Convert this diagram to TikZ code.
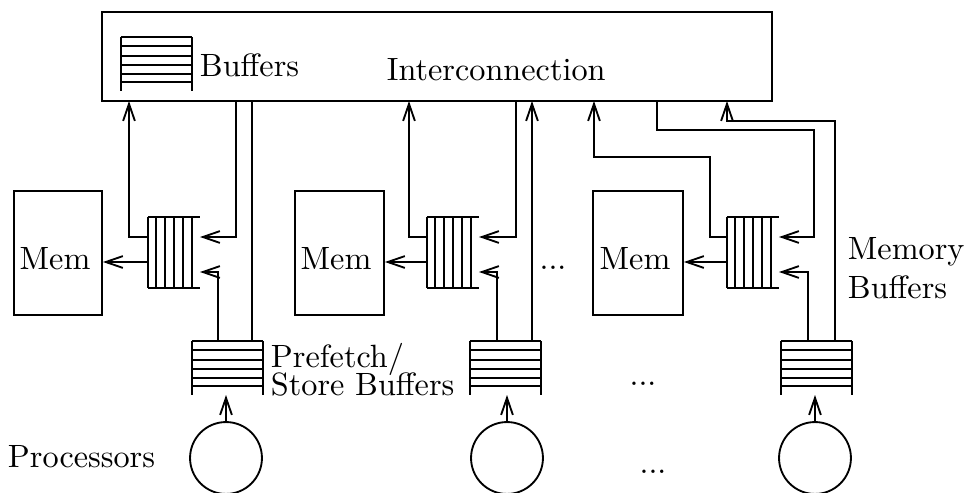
\documentclass[tikz,border=0pt]{standalone}
\usetikzlibrary{arrows.meta,fit}
\newcommand\tightlines{\lineskiplimit=-20pt\relax\lineskip=0pt\relax}
\begin{document}
\begin{tikzpicture}[x=0.3226pt,y=-0.3226pt,
  line width=0.6pt,
  buf/.style={line width=0.6pt},
  box/.style={draw,inner sep=0pt},
  arr/.style={-{Straight Barb[length=5.5pt,width=3.8pt]}},
  proc/.style={draw,circle,minimum size=23.2pt,inner sep=0pt},
  txt/.style={inner sep=0pt,font=\fontsize{10.4}{12}\selectfont},
  pics/membuf/.style={code={
    \draw[buf] (0,0) -- (52,0) (0,71) -- (52,71);
    \foreach \x in {0,8,17,26,35,44} \draw[buf] (\x,0) -- (\x,71);
    \coordinate (-l1) at (0,20); \coordinate (-l2) at (0,45);
    \coordinate (-r1) at (52,20); \coordinate (-r2) at (52,55);
  }},
  pics/pfbuf/.style={code={
    \draw[buf] (0,0) -- (0,54) (71,0) -- (71,54);
    \foreach \y in {0,9,19,28,37,45} \draw[buf] (0,\y) -- (71,\y);
  }}]
\useasboundingbox (0,0) rectangle (964,492);

% interconnection
\node[box,fit={(102,12) (772,101)}] (ic) {};
\pic (icbuf) at (121,37) {pfbuf};
\node[txt,anchor=base west] (tbuf) at (199,76) {Buffers};
\node[txt,anchor=base west] (tic) at (386,80) {Interconnection};

% memory boxes
\node[box,fit={(14,191) (102,315)}] (mem1) {};
\node[box,fit={(295,191) (384,315)}] (mem2) {};
\node[box,fit={(593,191) (683,315)}] (mem3) {};
\node[txt,anchor=base] (mt1) at (55,269) {Mem};
\node[txt,anchor=base] (mt2) at (336,269) {Mem};
\node[txt,anchor=base] (mt3) at (635,269) {Mem};

% memory buffers
\pic (mb1) at (148,217) {membuf};
\pic (mb2) at (427,217) {membuf};
\pic (mb3) at (727,217) {membuf};

% prefetch buffers
\pic (pf1) at (192,341) {pfbuf};
\pic (pf2) at (470,341) {pfbuf};
\pic (pf3) at (781,341) {pfbuf};

% processors
\node[proc] (p1) at (226,458) {};
\node[proc] (p2) at (507,458) {};
\node[proc] (p3) at (815,458) {};

% ports
\coordinate (ic-a1) at (129,101);
\coordinate (ic-d1) at (236,101);
\coordinate (ic-p1) at (252,101);
\coordinate (ic-a2) at (409,101);
\coordinate (ic-d2) at (516,101);
\coordinate (ic-p2) at (532,101);
\coordinate (ic-a3) at (594,101);
\coordinate (ic-d3) at (657,101);
\coordinate (ic-p3) at (727,101);
\coordinate (pf1-t1) at (218,341);
\coordinate (pf1-t2) at (252,341);
\coordinate (pf1-b) at (226,395);
\coordinate (pf2-t1) at (497,341);
\coordinate (pf2-t2) at (532,341);
\coordinate (pf2-b) at (507,395);
\coordinate (pf3-t1) at (808,341);
\coordinate (pf3-t2) at (835,341);
\coordinate (pf3-b) at (815,395);

% group 1
\draw[arr] (mb1-l1) -| (ic-a1);
\draw[arr] (mb1-l2) -- (mb1-l2 -| mem1.east);
\draw[arr] (ic-d1) |- (mb1-r1);
\draw[arr] (pf1-t1) |- (mb1-r2);
\draw (ic-p1) -- (pf1-t2);
\draw[arr] (p1.north) -- (pf1-b);

% group 2
\draw[arr] (mb2-l1) -| (ic-a2);
\draw[arr] (mb2-l2) -- (mb2-l2 -| mem2.east);
\draw[arr] (ic-d2) |- (mb2-r1);
\draw[arr] (pf2-t1) |- (mb2-r2);
\draw[arr] (pf2-t2) -- (ic-p2);
\draw[arr] (p2.north) -- (pf2-b);

% group 3
\draw[arr] (mb3-l1) -| ++(-17,-80) -| (ic-a3);
\draw[arr] (mb3-l2) -- (mb3-l2 -| mem3.east);
\draw[arr] (ic-d3) |- ++(157,29) |- (mb3-r1);
\draw[arr] (pf3-t1) |- (mb3-r2);
\draw[arr] (pf3-t2) |- ++(-108,-220) -- (ic-p3);
\draw[arr] (p3.north) -- (pf3-b);

% labels
\node[txt,anchor=base west,align=left,
  font=\fontsize{10.4}{8.8}\selectfont\tightlines]
  (tpf) at (270,395) {Prefetch/\\Store Buffers};
\node[txt,anchor=base west,align=left,
  font=\fontsize{10.4}{12.3}\selectfont\tightlines]
  (tmb) at (847,298) {Memory\\Buffers};
\node[txt,anchor=base west] (tproc) at (7,467) {Processors};
\node[txt,anchor=base] (dots1) at (553,269) {...};
\node[txt,anchor=base] (dots2) at (643,385) {...};
\node[txt,anchor=base] (dots3) at (653,473) {...};
\end{tikzpicture}
\end{document}
